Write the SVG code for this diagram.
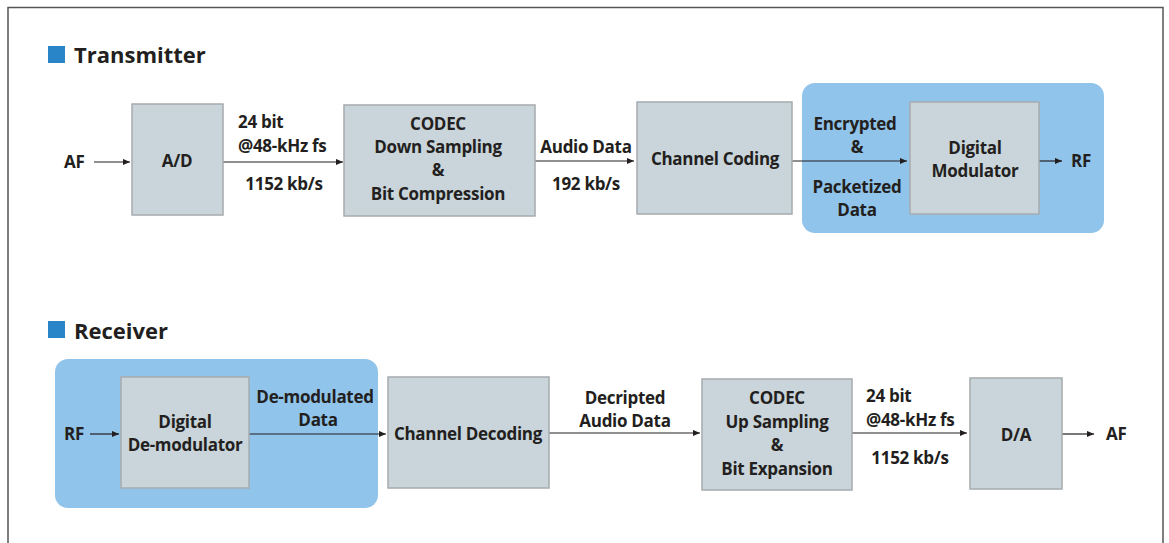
<svg xmlns="http://www.w3.org/2000/svg" width="1169" height="543" viewBox="0 0 1169 543">
<defs>
<marker id="ah" viewBox="0 0 8 8" refX="8" refY="4" markerWidth="7" markerHeight="7" markerUnits="userSpaceOnUse" orient="auto">
<path d="M0,0.5 L8,4 L0,7.5 Z" fill="#231f20"/>
</marker>
<style>
text{font-family:"Open Sans","Liberation Sans",sans-serif;font-weight:bold;fill:#231f20;font-size:17px;letter-spacing:-0.3px}
.h{font-size:22px;letter-spacing:0}
.c{text-anchor:middle}
.box{fill:#c9d5da;stroke:#a6abae;stroke-width:1.5}
.grp{fill:#90c4ea}
.sq{fill:#2a84c8}
.ln{stroke:#231f20;stroke-width:1.2;fill:none;marker-end:url(#ah)}
</style>
</defs>
<rect width="1169" height="543" fill="#fff"/>
<path d="M8,543 V7.5 H1163 V543" fill="none" stroke="#555" stroke-width="1.5"/>

<g id="title-tx">
<rect class="sq" x="48" y="46" width="17" height="17"/>
<text class="h" x="74" y="63">Transmitter</text>
</g>
<g id="title-rx">
<rect class="sq" x="48" y="321" width="17" height="17"/>
<text class="h" x="74" y="339">Receiver</text>
</g>

<g id="grp-tx"><rect class="grp" x="802" y="83" width="302" height="150" rx="13"/></g>
<g id="grp-rx"><rect class="grp" x="55" y="359" width="323" height="149" rx="13"/></g>

<g id="connectors">
<line class="ln" x1="94" y1="162" x2="130" y2="162"/>
<line class="ln" x1="223" y1="162" x2="343" y2="162"/>
<line class="ln" x1="535" y1="161" x2="634" y2="161"/>
<line class="ln" x1="792" y1="161" x2="907" y2="161"/>
<line class="ln" x1="1039" y1="161" x2="1062" y2="161"/>
<line class="ln" x1="90" y1="434" x2="119" y2="434"/>
<line class="ln" x1="249" y1="434" x2="386" y2="434"/>
<line class="ln" x1="549" y1="433" x2="700" y2="433"/>
<line class="ln" x1="852" y1="433" x2="967" y2="433"/>
<line class="ln" x1="1062" y1="434" x2="1094" y2="434"/>
</g>

<g id="labels">
<text x="64" y="168">AF</text>
<text x="238" y="128">24 bit</text>
<text x="238" y="152">@48-kHz fs</text>
<text class="c" x="284" y="190">1152 kb/s</text>
<text class="c" x="586" y="153">Audio Data</text>
<text class="c" x="586" y="190">192 kb/s</text>
<text class="c" x="855" y="130">Encrypted</text>
<text class="c" x="857" y="153">&amp;</text>
<text class="c" x="857" y="193">Packetized</text>
<text class="c" x="857" y="216">Data</text>
<text x="1071" y="167">RF</text>
<text x="64" y="440">RF</text>
<text class="c" x="315" y="403">De-modulated</text>
<text class="c" x="318" y="426">Data</text>
<text class="c" x="625" y="404">Decripted</text>
<text class="c" x="625" y="427">Audio Data</text>
<text x="866" y="402">24 bit</text>
<text x="866" y="426">@48-kHz fs</text>
<text class="c" x="910" y="464">1152 kb/s</text>
<text x="1106" y="440">AF</text>
</g>

<g id="ad"><rect class="box" x="132" y="104" width="91" height="111"/><text class="c" x="177" y="167">A/D</text></g>
<g id="codec-down"><rect class="box" x="344" y="105" width="191" height="111"/>
<text class="c" x="438" y="130">CODEC</text><text class="c" x="438" y="153">Down Sampling</text><text class="c" x="438" y="176">&amp;</text><text class="c" x="438" y="200">Bit Compression</text></g>
<g id="chcoding"><rect class="box" x="637" y="102" width="155" height="112"/><text class="c" x="715" y="165">Channel Coding</text></g>
<g id="mod"><rect class="box" x="910" y="102" width="129" height="112"/><text class="c" x="975" y="154">Digital</text><text class="c" x="975" y="177">Modulator</text></g>

<g id="demod"><rect class="box" x="121" y="377" width="128" height="111"/><text class="c" x="185" y="428">Digital</text><text class="c" x="185" y="451">De-modulator</text></g>
<g id="chdecoding"><rect class="box" x="388" y="377" width="161" height="111"/><text class="c" x="468" y="440">Channel Decoding</text></g>
<g id="codec-up"><rect class="box" x="702" y="379" width="150" height="111"/>
<text class="c" x="777" y="404">CODEC</text><text class="c" x="777" y="428">Up Sampling</text><text class="c" x="777" y="451">&amp;</text><text class="c" x="777" y="475">Bit Expansion</text></g>
<g id="da"><rect class="box" x="970" y="378" width="92" height="111"/><text class="c" x="1016" y="441">D/A</text></g>
</svg>
